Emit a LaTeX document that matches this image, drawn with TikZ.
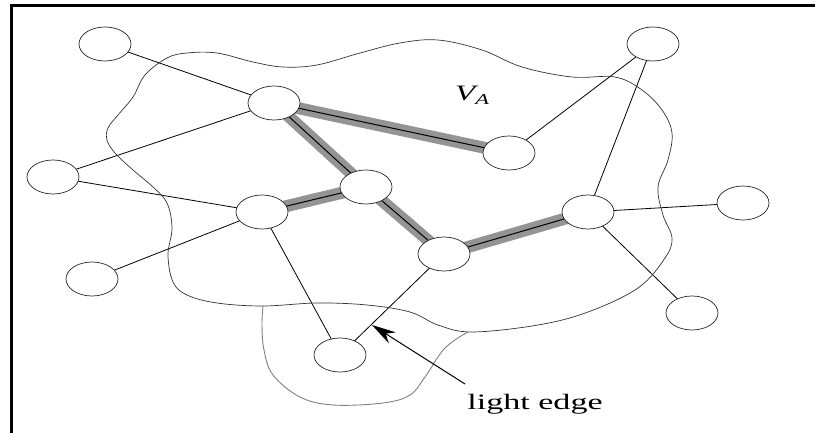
\documentclass[tikz,border=0pt]{standalone}
\usepackage{fontspec}
\setmainfont{Liberation Serif}
\usetikzlibrary{shapes.geometric,arrows.meta}
\pgfdeclarelayer{background}
\pgfsetlayers{background,main}
\begin{document}
\begin{tikzpicture}[x=1pt,y=-1pt,
  vtx/.style={ellipse,draw=black!85,line width=0.7pt,fill=white,minimum width=52pt,minimum height=34pt,inner sep=0pt},
  edge/.style={draw=black,line width=0.8pt},
  heavyband/.style={draw=black!42,line width=12pt},
  heavycore/.style={draw=black,line width=1pt},
  blob/.style={draw=black!80,line width=0.7pt},
  subblob/.style={draw=black!50,line width=0.9pt},
  lbl/.style={font=\fontsize{22}{26}\selectfont,inner sep=0pt}]
\useasboundingbox (0,0) rectangle (815,433);
\draw[line width=2.5pt,line join=miter] (11.5,433) -- (11.5,5.5) -- (815,5.5);

% V_A region
\draw[blob] plot[smooth cycle,tension=0.6] coordinates {
 (167,58) (187,53) (217,53) (253,62) (283,67) (317,65) (360,53) (400,43)
 (438,40) (482,50) (522,67) (572,77) (615,77) (642,90) (662,110) (672,133)
 (668,160) (658,187) (663,215) (672,238) (665,258) (638,288) (588,312)
 (538,325) (472,332) (438,325) (410,312) (367,305) (317,303) (263,306)
 (217,303) (187,295) (173,282) (168,255) (172,228) (167,203) (153,187)
 (133,170) (115,153) (107,140) (108,128) (118,115) (133,97) (145,75)};
% lower region
\draw[subblob] plot[smooth,tension=0.6] coordinates {
 (263,306) (262,325) (264,350) (273,375) (300,397) (333,405) (383,403)
 (410,395) (425,377) (445,348) (468,332)};

% vertices
\node[vtx] (A) at (105,44) {};
\node[vtx] (B) at (274,103) {};
\node[vtx] (C) at (53,177) {};
\node[vtx] (D) at (366,187) {};
\node[vtx] (E) at (262,212) {};
\node[vtx] (F) at (653,44) {};
\node[vtx] (G) at (509,153) {};
\node[vtx] (H) at (588,212) {};
\node[vtx] (I) at (743,203) {};
\node[vtx] (J) at (92,279) {};
\node[vtx] (K) at (340,355) {};
\node[vtx] (L) at (444,254) {};
\node[vtx] (M) at (692,313) {};

\begin{pgfonlayer}{background}
  \foreach \a/\b in {B/G,B/D,D/E,D/L,L/H}{
    \draw[heavyband] (\a.center) -- (\b.center);
  }
  \foreach \a/\b in {B/G,B/D,D/E,D/L,L/H}{
    \draw[heavycore] (\a.center) -- (\b.center);
  }
  \foreach \a/\b in {A/B,B/C,C/E,E/J,E/K,G/F,F/H,H/I,H/M,L/K}{
    \draw[edge] (\a.center) -- (\b.center);
  }
\end{pgfonlayer}

\node[lbl,anchor=base west] (va) at (455,101) {\scalebox{1.5}[1]{\itshape V}\raisebox{-4pt}{\fontsize{15}{15}\selectfont\scalebox{1.5}[1]{\itshape A}}};
\node[lbl] (le) at (535,404) {\scalebox{1.55}[1]{light edge}};
\coordinate (tail) at (465,384);
\coordinate (tip) at (372,325);
\draw[line width=1pt,-{Stealth[length=24pt,width=13pt]}] (tail) -- (tip);
\end{tikzpicture}
\end{document}
